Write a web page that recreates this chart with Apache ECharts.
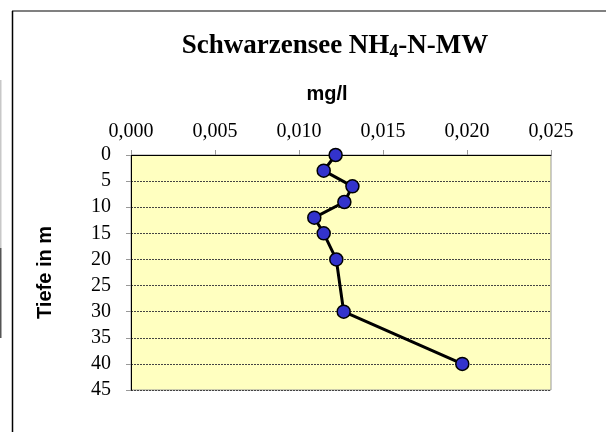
<!DOCTYPE html>
<html>
<head>
<meta charset="utf-8">
<script src="https://cdn.jsdelivr.net/npm/echarts@6/dist/echarts.min.js"></script>
<style>html,body{margin:0;padding:0;background:#fff;}#c{width:606px;height:432px;}</style>
</head>
<body>
<div id="c"></div>
<script>
var depths = [0, 3, 6, 9, 12, 15, 20, 30, 40];
var values = [0.01218, 0.01147, 0.01318, 0.0127, 0.01091, 0.01147, 0.01222, 0.01266, 0.01972];
var xTicks = [0, 0.005, 0.010, 0.015, 0.020, 0.025];
var yTicks = [0, 5, 10, 15, 20, 25, 30, 35, 40, 45];

var chart = echarts.init(document.getElementById('c'));
var data = depths.map(function (d, i) { return [values[i], d]; });
chart.setOption({
  animation: false,
  backgroundColor: '#fff',
  title: [{
    text: 'Schwarzensee NH{sub|4}-N-MW',
    left: 330, top: 27, textAlign: 'center',
    textStyle: {
      fontFamily: 'Liberation Serif', fontWeight: 'bold', fontSize: 27, color: '#000',
      rich: { sub: { fontFamily: 'Liberation Serif', fontWeight: 'bold', fontSize: 18, color: '#000', verticalAlign: 'bottom', padding: [11, 0, 0, 0] } }
    }
  }, {
    text: 'mg/l',
    left: 322, top: 79, textAlign: 'center',
    textStyle: { fontFamily: 'Liberation Sans', fontWeight: 'bold', fontSize: 20, color: '#000' }
  }],
  grid: {
    left: 131, top: 155, width: 420, height: 235,
    show: true, backgroundColor: '#FFFFC0', borderColor: '#999', borderWidth: 1
  },
  xAxis: {
    type: 'value', position: 'top', min: 0, max: 0.025, interval: 0.005,
    axisLine: { show: true, lineStyle: { color: '#000', width: 1 } },
    axisTick: { show: true, inside: false, length: 5, lineStyle: { color: '#999' } },
    axisLabel: {
      margin: 13, fontFamily: 'Liberation Serif', fontSize: 20, color: '#000',
      formatter: function (v) { return v.toFixed(3).replace('.', ','); }
    },
    splitLine: { show: false }
  },
  yAxis: {
    type: 'value', inverse: true, min: 0, max: 45, interval: 5,
    name: 'Tiefe in m', nameLocation: 'middle', nameGap: 76, nameRotate: 90,
    nameTextStyle: { fontFamily: 'Liberation Sans', fontWeight: 'bold', fontSize: 20, color: '#000' },
    axisLine: { show: true, lineStyle: { color: '#000', width: 1 } },
    axisTick: { show: true, length: 5, lineStyle: { color: '#999' } },
    axisLabel: { margin: 20, fontFamily: 'Liberation Serif', fontSize: 20, color: '#000' },
    splitLine: { show: true, lineStyle: { color: '#444', type: [2, 1], width: 1 } }
  },
  series: [{
    type: 'line', data: data,
    symbol: 'circle', symbolSize: 13,
    itemStyle: { color: '#3333CC', borderColor: '#000', borderWidth: 1.5 },
    lineStyle: { color: '#000', width: 3 }
  }],
  graphic: [
    { type: 'line', shape: { x1: 12, y1: 11, x2: 606, y2: 11 }, style: { stroke: '#808080', lineWidth: 2 } },
    { type: 'line', shape: { x1: 12.5, y1: 11, x2: 12.5, y2: 432 }, style: { stroke: '#000', lineWidth: 1.5 } },
    { type: 'rect', shape: { x: 0, y: 80, width: 1.5, height: 168 }, style: { fill: '#c8c8c8' } },
    { type: 'rect', shape: { x: 0, y: 248, width: 1.5, height: 90 }, style: { fill: '#555' } }
  ]
});
</script>
</body>
</html>
